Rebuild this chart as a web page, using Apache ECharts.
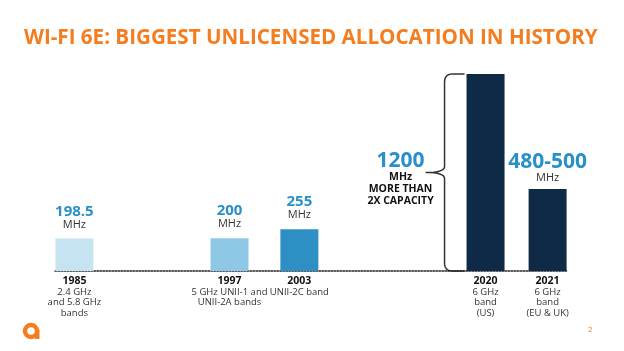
<!DOCTYPE html>
<html>
<head>
	<meta charset="UTF-8">
	<title>Wi-Fi 6E</title>
	<script src="https://cdn.jsdelivr.net/npm/echarts@6/dist/echarts.min.js"></script>
	<style>
		html, body { margin: 0; padding: 0; background: #fff; }
	</style>
</head>
<body>
	<div id="main" style="width: 624px; height: 351px;"></div>
	<script>
		// chart data
		var years = ['1985', '1997', '2003', '2020', '2021'];
		var bands = ['2.4 GHz\nand 5.8 GHz\nbands', '5 GHz UNII-1 and\nUNII-2A bands', 'UNII-2C band', '6 GHz\nband\n(US)', '6 GHz\nband\n(EU & UK)'];
		var mhz = [198.5, 200, 255, 1200, 500];
		var mhzText = ['198.5', '200', '255', '1200', '480-500'];

		// layout: which slot of the (uneven) timeline each bar sits in
		var slots = [2, 22, 31, 55, 63];
		var slotCount = 66;
		var barColors = ['#c6e3f1', '#8ec8e6', '#2e8fc4', '#0e2a46', '#0e2a46'];

		var orange = '#f47d20';
		var blue = '#2a90c9';

		var cats = [];
		var values = [];
		for (var i = 0; i < slotCount; i++) {
			cats.push('s' + i);
			values.push(null);
		}
		for (var k = 0; k < years.length; k++) {
			cats[slots[k]] = years[k];
			var item = {
				value: mhz[k],
				itemStyle: { color: barColors[k] }
			};
			if (k == 3) {
				// 1200 sits to the left of its bar, next to the brace
				item.label = {
					position: [-66, 105],
					align: 'center',
					verticalAlign: 'middle',
					formatter: '{big|' + mhzText[k] + '}\n{b|MHz}\n{b|MORE THAN}\n{b|2X CAPACITY}'
				};
			} else if (k == 4) {
				item.label = {
					distance: 5,
					formatter: '{big|' + mhzText[k] + '}\n{u|MHz}'
				};
			}
			values[slots[k]] = item;
		}

		var myChart = echarts.init(document.getElementById('main'));

		var option = {
			animation: false,
			backgroundColor: '#fff',
			title: {
				text: 'WI-FI 6E: BIGGEST UNLICENSED ALLOCATION IN HISTORY',
				left: 19,
				top: 23,
				textStyle: {
					color: orange,
					fontFamily: 'Open Sans',
					fontWeight: 'bold',
					fontSize: 20.6
				}
			},
			grid: {
				left: 55,
				right: 57,
				top: 74,
				bottom: 80
			},
			xAxis: {
				type: 'category',
				data: cats,
				axisLine: {
					lineStyle: { color: '#222', type: 'dotted', width: 1.5 }
				},
				axisTick: { show: false },
				axisLabel: {
					interval: 0,
					margin: 4,
					formatter: function (value, index) {
						var k = slots.indexOf(index);
						if (k < 0) return '';
						return '{y|' + years[k] + '}\n{d|' + bands[k].split('\n').join('}\n{d|') + '}';
					},
					rich: {
						y: { fontFamily: 'Open Sans', fontWeight: 'bold', fontSize: 10.5, color: '#111', lineHeight: 12 },
						d: { fontFamily: 'Open Sans', fontSize: 9.5, color: '#333', lineHeight: 10.5 }
					}
				}
			},
			yAxis: {
				type: 'value',
				min: 0,
				max: 1200,
				show: false,
				splitLine: { show: false }
			},
			series: [{
				type: 'bar',
				data: values,
				barWidth: 38,
				label: {
					show: true,
					position: 'top',
					distance: 8,
					align: 'center',
					formatter: function (p) {
						var k = slots.indexOf(p.dataIndex);
						return '{v|' + mhzText[k] + '}\n{u|MHz}';
					},
					rich: {
						v: { fontFamily: 'Open Sans', fontWeight: 'bold', fontSize: 15, color: blue, lineHeight: 14 },
						big: { fontFamily: 'Open Sans', fontWeight: 'bold', fontSize: 21, color: blue, lineHeight: 20 },
						u: { fontFamily: 'Open Sans', fontSize: 11, color: '#333', lineHeight: 12 },
						b: { fontFamily: 'Open Sans', fontWeight: 'bold', fontSize: 10.5, color: '#111', lineHeight: 12 }
					}
				}
			}]
		};
		myChart.setOption(option);

		// brace next to the 2020 bar, placed from the chart's own scale
		var topPt = myChart.convertToPixel({ seriesIndex: 0 }, [slots[3], mhz[3]]);
		var botPt = myChart.convertToPixel({ seriesIndex: 0 }, [slots[3], 0]);
		var barLeft = topPt[0] - 19;
		var vx = barLeft - 22;
		var tipx = vx - 19;
		var yTop = topPt[1], yBot = botPt[1], yMid = (yTop + yBot) / 2;

		var bracePts = [];
		function quad(x0, y0, cx, cy, x1, y1) {
			for (var t = 0; t <= 1.0001; t += 0.125) {
				var a = (1 - t) * (1 - t), b = 2 * (1 - t) * t, c = t * t;
				bracePts.push([a * x0 + b * cx + c * x1, a * y0 + b * cy + c * y1]);
			}
		}
		bracePts.push([barLeft - 2, yTop]);
		quad(vx + 8, yTop, vx, yTop, vx, yTop + 8);
		quad(vx, yMid - 6, vx, yMid, tipx, yMid);
		quad(tipx, yMid, vx, yMid, vx, yMid + 6);
		quad(vx, yBot - 8, vx, yBot, vx + 8, yBot);
		bracePts.push([barLeft - 2, yBot]);

		myChart.setOption({
			graphic: [
				{
					type: 'polyline',
					shape: { points: bracePts },
					style: { fill: 'none', stroke: '#333', lineWidth: 1.5 }
				},
				{
					type: 'ring',
					shape: { cx: 31, cy: 331, r: 8.2, r0: 3.8 },
					style: { fill: orange }
				},
				{
					type: 'rect',
					shape: { x: 35, y: 330, width: 4.5, height: 9 },
					style: { fill: orange }
				},
				{
					type: 'text',
					x: 588,
					y: 326,
					style: { text: '2', fill: orange, fontSize: 8, fontFamily: 'Open Sans' }
				}
			]
		});
	</script>
</body>
</html>
